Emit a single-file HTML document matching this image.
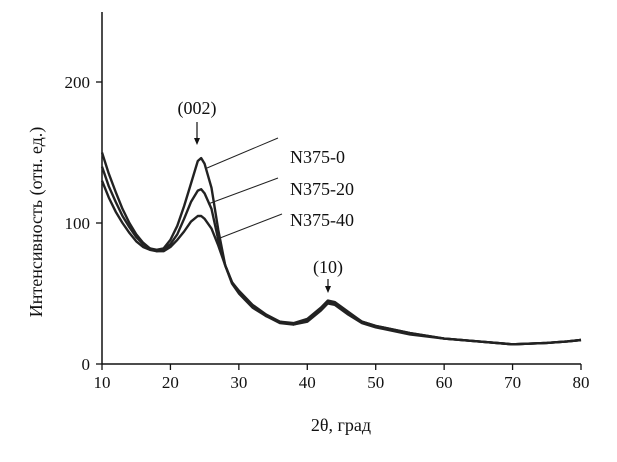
<!DOCTYPE html>
<html><head><meta charset="utf-8"><style>
body{margin:0;background:#fff;}
svg text{font-family:"Liberation Serif",serif;fill:#111;}
</style></head><body>
<svg width="617" height="457" id="c">
<g id="g"></g>
</svg>
<script>
const xTicks=[10,20,30,40,50,60,70,80];
const yTicks=[0,100,200];
const x0=[10,11,12,13,14,15,16,17,18,19,20,21,22,23,24,24.5,25,26,27,28,29,30,32,34,36,38,40,42,43,44,46,48,50,55,60,65,70,75,78,80];
const s0=[150,135,122,110,100,92,86,82,81,82,88,98,112,128,144,146,142,125,95,70,58,52,42,35,30,29,32,40,45,44,37,30,27,22,18,16,14,15,16,17];
const s20=[140,126,115,105,97,90,85,82,80,81,85,92,103,115,123,124,121,110,88,70,58,51,41,34,30,28,31,39,44,43,36,30,27,22,18,16,14,15,16,17];
const s40=[130,118,108,100,93,87,83,81,80,80,83,88,94,101,105,105,103,96,84,70,57,50,40,34,29,28,30,38,43,42,35,29,26,21,18,16,14,15,16,17];
const series=[["N375-0",s0],["N375-20",s20],["N375-40",s40]];
const X=v=>102+(v-10)*(479/70);
const Y=v=>364-v*1.41;
const ns="http://www.w3.org/2000/svg";
const g=document.getElementById('g');
function mk(t,a,txt){const e=document.createElementNS(ns,t);for(const k in a)e.setAttribute(k,a[k]);if(txt!=null)e.textContent=txt;g.appendChild(e);return e;}
let e;
e=mk('line',{x1:102,y1:12,x2:102,y2:364,stroke:'#111','stroke-width':1.5});


e=mk('line',{x1:102,y1:364,x2:581,y2:364,stroke:'#111','stroke-width':1.5});


xTicks.forEach(t=>{
 e=mk('line',{x1:X(t),y1:364,x2:X(t),y2:370,stroke:'#111','stroke-width':1.3});
 
 
 e=mk('text',{x:X(t),y:388,'text-anchor':'middle','font-size':17},String(t));
 
 
});
yTicks.forEach(t=>{
 e=mk('line',{x1:96,y1:Y(t),x2:102,y2:Y(t),stroke:'#111','stroke-width':1.3});
 
 
 e=mk('text',{x:90,y:Y(t)+6,'text-anchor':'end','font-size':17},String(t));
 
 
});
series.forEach(([n,s])=>{
 const d=x0.map((v,i)=>(i?'L':'M')+X(v).toFixed(1)+' '+Y(s[i]).toFixed(1)).join(' ');
 e=mk('path',{d:d,fill:'none',stroke:'#222','stroke-width':2.4,'stroke-linejoin':'round'});
 
 
});
const leaders=[[207,168,278,138,290,163],[208,204,278,178,290,195],[220,238,282,214,290,226]];
series.forEach(([n],i)=>{
 const l=leaders[i];
 e=mk('line',{x1:l[0],y1:l[1],x2:l[2],y2:l[3],stroke:'#222','stroke-width':1});
 
 
 e=mk('text',{x:l[4],y:l[5],'font-size':18},n);
 
 
});
e=mk('text',{x:197,y:114,'text-anchor':'middle','font-size':18},'(002)');


e=mk('text',{x:328,y:273,'text-anchor':'middle','font-size':18},'(10)');


[[197,122,145],[328,279,293]].forEach(a=>{
 e=mk('line',{x1:a[0],y1:a[1],x2:a[0],y2:a[2]-6,stroke:'#111','stroke-width':1.2});
 
 
 e=mk('path',{d:`M${a[0]-3} ${a[2]-7} L${a[0]+3} ${a[2]-7} L${a[0]} ${a[2]} Z`,fill:'#111'});
 
 
});
e=mk('text',{x:341,y:431,'text-anchor':'middle','font-size':18},'2θ, град');


e=mk('text',{x:0,y:0,'text-anchor':'middle','font-size':18,transform:'translate(42,222) rotate(-90)'},'Интенсивность (отн. ед.)');


</script>
</body></html>
